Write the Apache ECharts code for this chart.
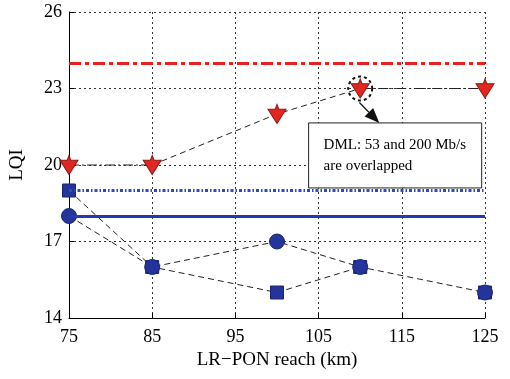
<!DOCTYPE html>
<html>
<head>
<meta charset="utf-8">
<script src="https://cdn.jsdelivr.net/npm/echarts@6/dist/echarts.min.js"></script>
<style>
  html, body { margin: 0; padding: 0; background: #fff; }
  #chart { width: 510px; height: 379px; }
</style>
</head>
<body>
<div id="chart"></div>
<script>
// reach (km) and LQI values
const reach = [75, 85, 100, 110, 125];
const dmlValues = [20, 20, 22, 23, 23];
const circleValues = [18, 16, 17, 16, 15];
const squareValues = [19, 16, 15, 16, 15];
const redLimit = 24;
const blueDotted = 19;
const blueSolid = 18;
const xTicks = [75, 85, 95, 105, 115, 125];
const yTicks = [14, 17, 20, 23, 26];

const FONT = '"Liberation Serif", "DejaVu Serif", serif';
// down triangle with a small nub on top
const shield = 'path://M0 3 L4 3 L5 0 L6 3 L10 3 L5 12 Z';

const chart = echarts.init(document.getElementById('chart'));

function pairs(vals) {
    return reach.map(function (x, i) { return [x, vals[i]]; });
}

// dash-dot pieces (75-85, 110-125) and dashed piece (85-110)
const dmlDashDot = pairs(dmlValues).map(function (p, i) { return i === 2 ? [p[0], '-'] : p; });
const dmlDashed = pairs(dmlValues).slice(1, 4);

function hLine(y, color, type, width) {
    return {
        type: 'line',
        data: [],
        markLine: {
            silent: true,
            symbol: 'none',
            label: { show: false },
            lineStyle: { color: color, type: type, width: width },
            data: [{ yAxis: y }]
        }
    };
}

function dashedLine(data) {
    return {
        type: 'line', data: data, symbol: 'none',
        lineStyle: { color: '#222', width: 1, type: [6, 4] }
    };
}

function markers(data, symbol, size, fill, border) {
    return {
        type: 'line', data: data, symbol: symbol, symbolSize: size,
        itemStyle: { color: fill, borderColor: border, borderWidth: 1 },
        lineStyle: { width: 0, opacity: 0 }
    };
}

chart.setOption({
    animation: false,
    grid: { left: 68, right: 25, top: 12, bottom: 61 },
    xAxis: {
        type: 'value', min: xTicks[0], max: xTicks[xTicks.length - 1], interval: 10,
        name: 'LR\u2212PON reach (km)', nameLocation: 'middle', nameGap: 33,
        nameTextStyle: { fontFamily: FONT, fontSize: 19, color: '#000' },
        axisLine: { lineStyle: { color: '#000', width: 1 } },
        axisTick: { inside: true, length: 5, lineStyle: { color: '#000' } },
        axisLabel: { fontFamily: FONT, fontSize: 18, color: '#000', margin: 10 },
        splitLine: { show: true, lineStyle: { color: '#333', type: [2, 3], width: 1 } }
    },
    yAxis: {
        type: 'value', min: yTicks[0], max: yTicks[yTicks.length - 1], interval: 3,
        name: 'LQI', nameLocation: 'middle', nameGap: 42,
        nameTextStyle: { fontFamily: FONT, fontSize: 19, color: '#000' },
        axisLine: { show: true, lineStyle: { color: '#000', width: 1 } },
        axisTick: { show: true, inside: true, length: 5, lineStyle: { color: '#000' } },
        axisLabel: { fontFamily: FONT, fontSize: 18, color: '#000', margin: 7 },
        splitLine: { show: true, lineStyle: { color: '#333', type: [2, 3], width: 1 } }
    },
    series: [
        hLine(redLimit, '#e8211c', [12, 4, 4, 4], 3),
        hLine(blueDotted, '#2f49c4', [3, 2, 1.5, 2], 3),
        hLine(blueSolid, '#2339b0', 'solid', 3),
        dashedLine(dmlDashed),
        {
            type: 'line', data: dmlDashDot, symbol: 'none', connectNulls: false,
            lineStyle: { color: '#222', width: 1, type: [10, 3, 2, 3] }
        },
        dashedLine(pairs(squareValues).slice(0, 4)),
        dashedLine(pairs(circleValues)),
        markers(pairs(squareValues), 'rect', 13, '#23349a', '#1a2670'),
        markers(pairs(circleValues), 'circle', 15, '#23349a', '#1a2670'),
        markers(pairs(dmlValues), shield, [18, 19], '#e3261f', '#8a1a14')
    ]
});

// annotation: dashed ring, arrow, text box (placed in data space)
const ring = chart.convertToPixel({ gridIndex: 0 }, [110, 23]);
const arrowFrom = chart.convertToPixel({ gridIndex: 0 }, [109.9, 22.45]);
const arrowTo = chart.convertToPixel({ gridIndex: 0 }, [112.3, 21.65]);
const boxA = chart.convertToPixel({ gridIndex: 0 }, [103.8, 21.65]);
const boxB = chart.convertToPixel({ gridIndex: 0 }, [124.6, 19.1]);

const ang = Math.atan2(arrowTo[1] - arrowFrom[1], arrowTo[0] - arrowFrom[0]);
const headLen = 15, headW = 6;
const bx = arrowTo[0] - headLen * Math.cos(ang), by = arrowTo[1] - headLen * Math.sin(ang);
const nx = -Math.sin(ang) * headW, ny = Math.cos(ang) * headW;

chart.setOption({
    graphic: [
        {
            type: 'circle', z: 100,
            shape: { cx: ring[0], cy: ring[1], r: 12 },
            style: { fill: null, stroke: '#111', lineWidth: 2, lineDash: [3, 3] }
        },
        {
            type: 'line', z: 100,
            shape: { x1: arrowFrom[0], y1: arrowFrom[1], x2: bx, y2: by },
            style: { stroke: '#111', lineWidth: 1.2 }
        },
        {
            type: 'polygon', z: 100,
            shape: { points: [[arrowTo[0], arrowTo[1]], [bx + nx, by + ny], [bx - nx, by - ny]] },
            style: { fill: '#111' }
        },
        {
            type: 'rect', z: 99,
            shape: { x: boxA[0], y: boxA[1], width: boxB[0] - boxA[0], height: boxB[1] - boxA[1] },
            style: { fill: '#fff', stroke: '#222', lineWidth: 1 }
        },
        {
            type: 'text', z: 101,
            x: boxA[0] + 15, y: (boxA[1] + boxB[1]) / 2,
            style: {
                text: 'DML: 53 and 200 Mb/s\nare overlapped',
                font: '15px ' + FONT, fill: '#000',
                verticalAlign: 'middle', lineHeight: 21
            }
        }
    ]
});
</script>
</body>
</html>
